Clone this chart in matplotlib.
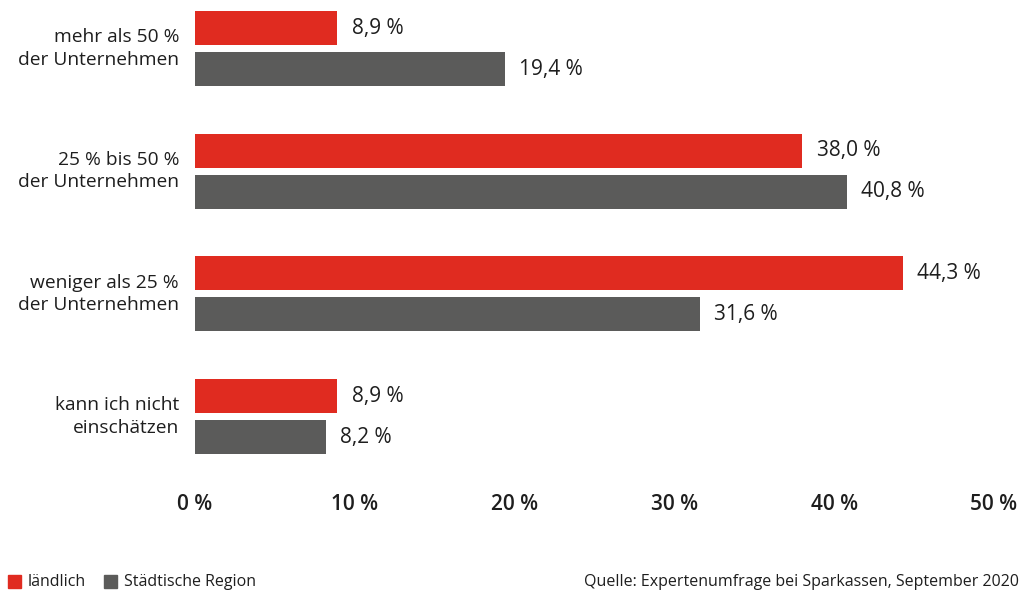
import numpy as np
import matplotlib.pyplot as plt

plt.rcParams['font.family'] = ['Open Sans', 'DejaVu Sans']

categories = ['mehr als 50 %\nder Unternehmen', '25 % bis 50 %\nder Unternehmen',
              'weniger als 25 %\nder Unternehmen', 'kann ich nicht\neinschätzen']
laendlich = [8.9, 38.0, 44.3, 8.9]
staedtisch = [19.4, 40.8, 31.6, 8.2]
xticks = [0, 10, 20, 30, 40, 50]
series_names = ['ländlich', 'Städtische Region']
source = 'Quelle: Expertenumfrage bei Sparkassen, September 2020'

RED = '#e02b20'
GRAY = '#5b5b5a'
TXT = '#1e1e1e'

W, H = 1022, 592
fig = plt.figure(figsize=(W / 100, H / 100), dpi=100)
# axes in pixel terms: x 195..994, y 0..480
ax = fig.add_axes([195 / W, 1 - 480 / H, (994 - 195) / W, 480 / H])

pitch = 122.67
bh = 34 / pitch
off = 20.5 / pitch
y = np.arange(len(categories))

ax.barh(y - off, laendlich, height=bh, color=RED)
ax.barh(y + off, staedtisch, height=bh, color=GRAY)

for yi, v in zip(y - off, laendlich):
    ax.text(v + 0.9, yi, f'{v:.1f} %'.replace('.', ','), va='center', ha='left',
            fontsize=15, color=TXT)
for yi, v in zip(y + off, staedtisch):
    ax.text(v + 0.9, yi, f'{v:.1f} %'.replace('.', ','), va='center', ha='left',
            fontsize=15, color=TXT)

for yi, c in zip(y, categories):
    ax.text(-1.0, yi, c, va='center', ha='right', fontsize=13.8, color=TXT,
            linespacing=1.3)

ax.set_xlim(0, 50)
ax.set_ylim((480 - 48.5) / pitch, -48.5 / pitch)
ax.set_xticks(xticks)
ax.set_xticklabels([f'{t} %' for t in xticks], fontsize=15, fontweight='semibold', color=TXT)
ax.tick_params(axis='x', length=0, pad=10)
ax.set_yticks([])
for s in ax.spines.values():
    s.set_visible(False)

# legend
fig.patches.append(plt.Rectangle((8 / W, 1 - 588 / H), 13 / W, 13 / H,
                                 transform=fig.transFigure, color=RED))
fig.text(28 / W, 1 - 582 / H, series_names[0], fontsize=11.5, fontweight='medium',
         color=TXT, va='center')
fig.patches.append(plt.Rectangle((104 / W, 1 - 588 / H), 13 / W, 13 / H,
                                 transform=fig.transFigure, color=GRAY))
fig.text(124 / W, 1 - 582 / H, series_names[1], fontsize=11.5, fontweight='medium',
         color=TXT, va='center')
fig.text(1019 / W, 1 - 582 / H, source, fontsize=11.5, fontweight='medium',
         color=TXT, va='center', ha='right')

fig.savefig('out.png', dpi=100)
